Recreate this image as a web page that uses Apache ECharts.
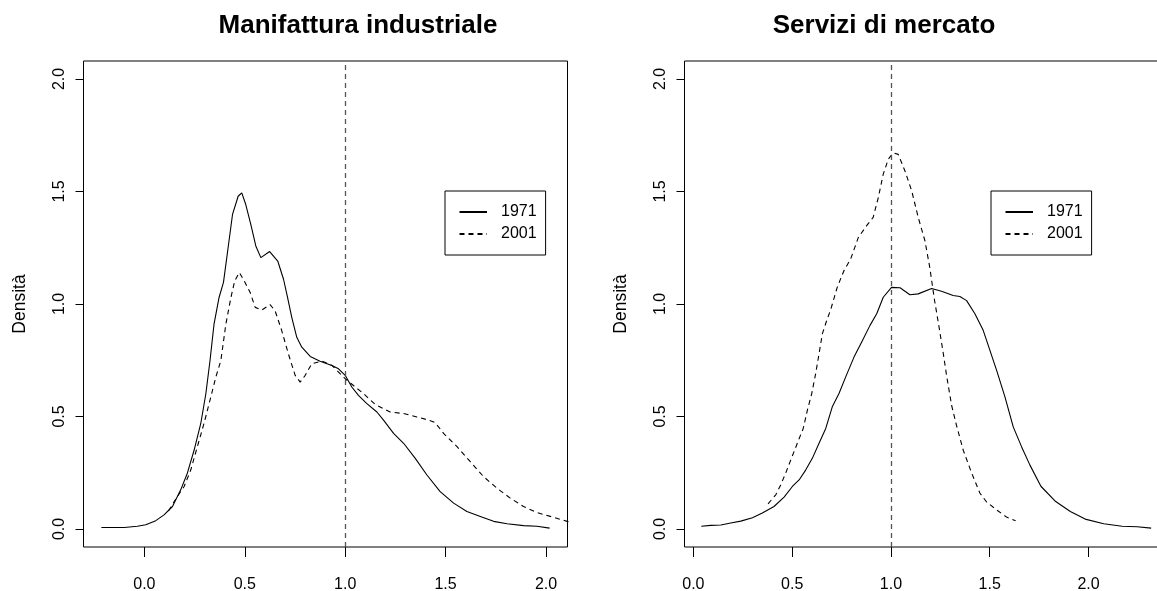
<!DOCTYPE html>
<html>
<head>
<meta charset="utf-8">
<script src="https://cdn.jsdelivr.net/npm/echarts@6/dist/echarts.min.js"></script>
<style>
html,body{margin:0;padding:0;background:#fff;}
#chart{width:1157px;height:591px;}
</style>
</head>
<body>
<div id="chart"></div>
<script>
// ---- data ----
const panelTitles = ['Manifattura industriale', 'Servizi di mercato'];
const seriesNames = ['1971', '2001'];
const tickValues = [0, 0.5, 1, 1.5, 2];
const yLabel = 'Densità';
const refLine = 1.0;

// Manifattura industriale, 1971
const man1971X = [-0.214,-0.10,-0.035,0.007,0.057,0.098,0.14,0.181,0.214,0.248,0.281,0.306,0.327,0.347,0.372,0.394,0.417,0.439,0.467,0.485,0.505,0.530,0.555,0.58,0.624,0.665,0.693,0.713,0.734,0.759,0.784,0.826,0.875,0.934,0.967,1.0,1.033,1.066,1.108,1.158,1.191,1.241,1.291,1.349,1.407,1.473,1.540,1.606,1.673,1.739,1.806,1.888,1.955,2.018];
const man1971Y = [0.007,0.007,0.012,0.019,0.037,0.063,0.10,0.174,0.248,0.351,0.469,0.60,0.749,0.911,1.029,1.096,1.250,1.398,1.479,1.494,1.442,1.354,1.258,1.206,1.233,1.189,1.11,1.029,0.941,0.852,0.808,0.767,0.746,0.727,0.712,0.683,0.631,0.594,0.557,0.520,0.484,0.425,0.381,0.314,0.240,0.166,0.115,0.078,0.056,0.034,0.023,0.015,0.012,0.004];
// Manifattura industriale, 2001
const man2001X = [0.12,0.164,0.198,0.231,0.264,0.297,0.331,0.356,0.381,0.406,0.431,0.450,0.473,0.497,0.527,0.552,0.585,0.626,0.651,0.684,0.717,0.751,0.776,0.801,0.834,0.884,0.934,1.0,1.041,1.091,1.149,1.224,1.291,1.357,1.415,1.448,1.490,1.557,1.623,1.689,1.756,1.822,1.888,1.955,2.021,2.105,2.15];
const man2001Y = [0.08,0.144,0.189,0.262,0.366,0.469,0.587,0.675,0.749,0.911,1.029,1.103,1.140,1.103,1.051,0.985,0.973,0.997,0.970,0.882,0.779,0.683,0.653,0.683,0.735,0.746,0.727,0.668,0.638,0.602,0.554,0.520,0.513,0.498,0.484,0.473,0.425,0.366,0.299,0.233,0.181,0.137,0.100,0.073,0.056,0.034,0.027];
// Servizi di mercato, 1971
const ser1971X = [0.040,0.088,0.139,0.189,0.240,0.299,0.349,0.408,0.459,0.501,0.535,0.569,0.602,0.636,0.670,0.703,0.737,0.771,0.813,0.852,0.894,0.928,0.961,1.003,1.046,1.096,1.138,1.206,1.256,1.315,1.349,1.383,1.425,1.467,1.501,1.535,1.577,1.619,1.661,1.703,1.759,1.834,1.908,1.983,2.077,2.170,2.246,2.317];
const ser1971Y = [0.012,0.016,0.018,0.027,0.035,0.050,0.071,0.100,0.142,0.189,0.218,0.263,0.314,0.381,0.447,0.543,0.602,0.676,0.764,0.831,0.905,0.957,1.030,1.074,1.072,1.041,1.045,1.069,1.057,1.038,1.033,1.015,0.957,0.883,0.794,0.705,0.587,0.454,0.366,0.285,0.19,0.122,0.078,0.044,0.023,0.012,0.010,0.004];
// Servizi di mercato, 2001
const ser2001X = [0.378,0.417,0.442,0.467,0.493,0.526,0.556,0.577,0.599,0.619,0.636,0.653,0.675,0.695,0.728,0.762,0.796,0.835,0.877,0.910,0.936,0.961,0.986,1.012,1.037,1.071,1.105,1.138,1.172,1.197,1.22,1.243,1.265,1.282,1.307,1.332,1.366,1.408,1.450,1.484,1.535,1.585,1.631];
const ser2001Y = [0.112,0.152,0.196,0.248,0.307,0.381,0.447,0.528,0.602,0.691,0.779,0.868,0.927,0.975,1.074,1.148,1.20,1.296,1.348,1.385,1.473,1.577,1.643,1.672,1.665,1.591,1.503,1.385,1.281,1.16,1.02,0.90,0.78,0.68,0.55,0.46,0.35,0.25,0.16,0.12,0.085,0.053,0.037];

// axis ranges (R style, 4% extension)
const xRanges = [[-0.303, 2.107], [-0.045, 2.41]];
const yRange = [-0.08, 2.08];

// ---- build chart ----
const FONT = '"Liberation Sans", Arial, Helvetica, sans-serif';
const zip = (xs, ys) => xs.map((x, i) => [x, ys[i]]);
const panels = [
  {s1971: zip(man1971X, man1971Y), s2001: zip(man2001X, man2001Y)},
  {s1971: zip(ser1971X, ser1971Y), s2001: zip(ser2001X, ser2001Y)}
];
const gridLeft = [83.5, 684.5];
const gridW = [484, 485];
const titleX = [358, 884];
const legendLeft = [445, 991];

const fmt = v => Number(v).toFixed(1);

const option = {
  animation: false,
  backgroundColor: '#ffffff',
  grid: gridLeft.map((l, i) => ({
    left: l, top: 61, width: gridW[i], height: 486,
    show: true, borderColor: '#000', borderWidth: 1, backgroundColor: 'transparent',
    containLabel: false, outerBoundsMode: 'none'
  })),
  xAxis: xRanges.map((r, i) => ({
    gridIndex: i, type: 'value', min: r[0], max: r[1],
    axisLine: {show: false, onZero: false},
    splitLine: {show: false},
    axisTick: {show: true, customValues: tickValues, length: 10, inside: false,
               lineStyle: {color: '#000', width: 1}},
    axisLabel: {show: true, customValues: tickValues, formatter: fmt, margin: 30,
                color: '#000', fontSize: 16, fontFamily: FONT}
  })),
  yAxis: [0, 1].map(i => ({
    gridIndex: i, type: 'value', min: yRange[0], max: yRange[1],
    name: yLabel, nameLocation: 'middle', nameGap: 54, nameRotate: 90,
    nameTextStyle: {color: '#000', fontSize: 17.5, fontFamily: FONT},
    axisLine: {show: false, onZero: false},
    splitLine: {show: false},
    axisTick: {show: true, customValues: tickValues, length: 8, inside: false,
               lineStyle: {color: '#000', width: 1}},
    axisLabel: {show: true, customValues: tickValues, formatter: fmt, rotate: 90, margin: 16,
                color: '#000', fontSize: 16, fontFamily: FONT}
  })),
  legend: legendLeft.map(l => ({
    orient: 'vertical', left: l, top: 191,
    padding: [13, 9, 13, 13.5],
    itemWidth: 27.5, itemHeight: 12, itemGap: 6,
    borderColor: '#000', borderWidth: 1, borderRadius: 0, backgroundColor: '#fff',
    selectedMode: false,
    itemStyle: {opacity: 0, borderWidth: 0},
    textStyle: {color: '#000', fontSize: 16, fontFamily: FONT, padding: [0, 0, 0, 9]},
    data: seriesNames
  })),
  graphic: panelTitles.map((t, i) => ({
    type: 'text', x: titleX[i], y: 26, silent: true,
    style: {text: t, fill: '#000', fontSize: 26, fontWeight: 'bold', fontFamily: FONT,
            align: 'center', verticalAlign: 'middle', textAlign: 'center', textVerticalAlign: 'middle'}
  })),
  series: []
};

panels.forEach((p, i) => {
  option.series.push({
    name: seriesNames[0], type: 'line', xAxisIndex: i, yAxisIndex: i,
    data: p.s1971, showSymbol: false, symbol: 'none', smooth: false, clip: true,
    lineStyle: {color: '#000', width: 1.1, type: 'solid'},
    itemStyle: {color: '#000'},
    markLine: {
      silent: true, symbol: ['none', 'none'], label: {show: false},
      lineStyle: {color: '#555', width: 1.3, type: [5, 4]},
      data: [{xAxis: refLine}]
    }
  });
  option.series.push({
    name: seriesNames[1], type: 'line', xAxisIndex: i, yAxisIndex: i,
    data: p.s2001, showSymbol: false, symbol: 'none', smooth: false, clip: true,
    lineStyle: {color: '#000', width: 1.1, type: [5, 4]},
    itemStyle: {color: '#000'}
  });
});

const chart = echarts.init(document.getElementById('chart'), null, {renderer: 'canvas'});
chart.setOption(option);
</script>
</body>
</html>
